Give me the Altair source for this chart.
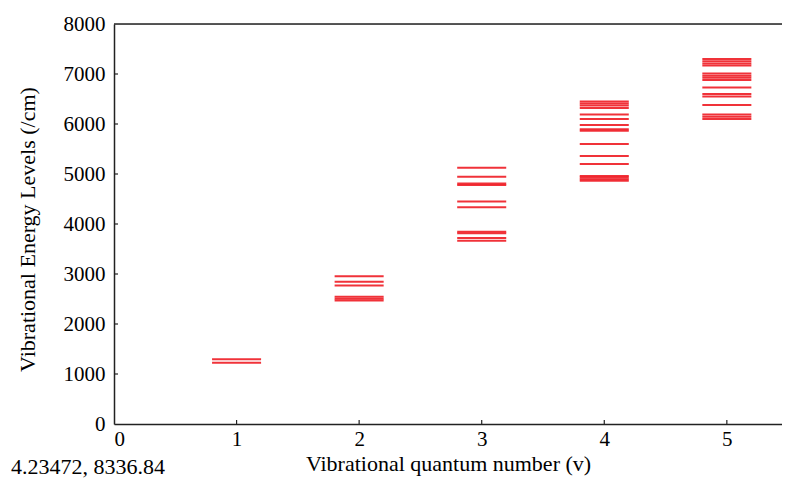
import altair as alt
import pandas as pd

# Vibrational energy levels (cm^-1), per quantum number v
levels_v1 = [1295, 1225]
levels_v2 = [2955, 2845, 2770, 2545, 2505, 2470]
levels_v3 = [5125, 4945, 4810, 4780, 4450, 4335, 3845, 3815, 3720, 3665]
levels_v4 = [6450, 6410, 6370, 6320, 6190, 6100, 5980, 5895, 5865, 5600,
             5360, 5200, 4960, 4930, 4895, 4865]
levels_v5 = [7300, 7255, 7210, 7170, 7010, 6965, 6925, 6880, 6730, 6600,
             6550, 6380, 6190, 6145, 6100]

x_ticks = [0, 1, 2, 3, 4, 5]
y_ticks = [0, 1000, 2000, 3000, 4000, 5000, 6000, 7000, 8000]
cursor_text = "4.23472, 8336.84"

rows = []
for v, lv in zip([1, 2, 3, 4, 5], [levels_v1, levels_v2, levels_v3, levels_v4, levels_v5]):
    for e in lv:
        rows.append({"v": v, "E": e})
df = pd.DataFrame(rows)

W, H = 668, 400
XMAX = 5.45
FONT = "Liberation Serif"
FS = 21
TS = 22

xs = alt.Scale(domain=[0, XMAX], nice=False, zero=False)
ys = alt.Scale(domain=[0, 8000], nice=False)

levels = alt.Chart(df).transform_calculate(
    x1="datum.v - 0.2", x2="datum.v + 0.2"
).mark_rule(color="#ee1c24", strokeWidth=2.2, opacity=0.9).encode(
    x=alt.X("x1:Q", scale=xs,
            axis=alt.Axis(values=x_ticks, format="d", ticks=False, grid=False,
                          labelFont=FONT, labelFontSize=FS, labelColor="black",
                          labelPadding=4, domainColor="#222", domainWidth=1.5,
                          title="Vibrational quantum number (v)", titleFont=FONT,
                          titleFontSize=TS, titleFontWeight="normal",
                          titleColor="black", titlePadding=4)),
    x2="x2:Q",
    y=alt.Y("E:Q", scale=ys,
            axis=alt.Axis(values=y_ticks, format="d", ticks=False, grid=False,
                          labelFont=FONT, labelFontSize=FS, labelColor="black",
                          labelPadding=9, domainColor="#222", domainWidth=1.5,
                          title="Vibrational Energy Levels (/cm)", titleFont=FONT,
                          titleFontSize=TS, titleFontWeight="normal",
                          titleColor="black", titleX=-87, titleY=H / 2 + 5,
                          titleAngle=270, titleAlign="center", titleBaseline="middle")),
)

xt = alt.Chart(pd.DataFrame({"t": x_ticks[1:]})).mark_rule(color="#222", strokeWidth=1.2).encode(
    x=alt.X("t:Q", scale=xs), y=alt.value(H), y2=alt.value(H - 4)
)
yt = alt.Chart(pd.DataFrame({"t": y_ticks[1:-1]})).mark_rule(color="#222", strokeWidth=1.2).encode(
    y=alt.Y("t:Q", scale=ys), x=alt.value(0), x2=alt.value(4)
)
top = alt.Chart(pd.DataFrame({"a": [0]})).mark_rule(color="#222", strokeWidth=1.5).encode(
    x=alt.value(0), x2=alt.value(W), y=alt.value(0)
)
cursor = alt.Chart(pd.DataFrame({"s": [cursor_text]})).mark_text(
    font=FONT, fontSize=TS, align="left", baseline="middle", color="black"
).encode(text="s:N", x=alt.value(-103), y=alt.value(H + 43))

chart = alt.layer(levels, xt, yt, top, cursor).properties(
    width=W, height=H,
    autosize=alt.AutoSizeParams(type="none"),
    padding={"left": 106, "top": 16, "right": 0, "bottom": 56},
).configure_view(stroke=None).configure(background="white")

chart.save("out.html", embed_options={"renderer": "svg", "actions": False})
